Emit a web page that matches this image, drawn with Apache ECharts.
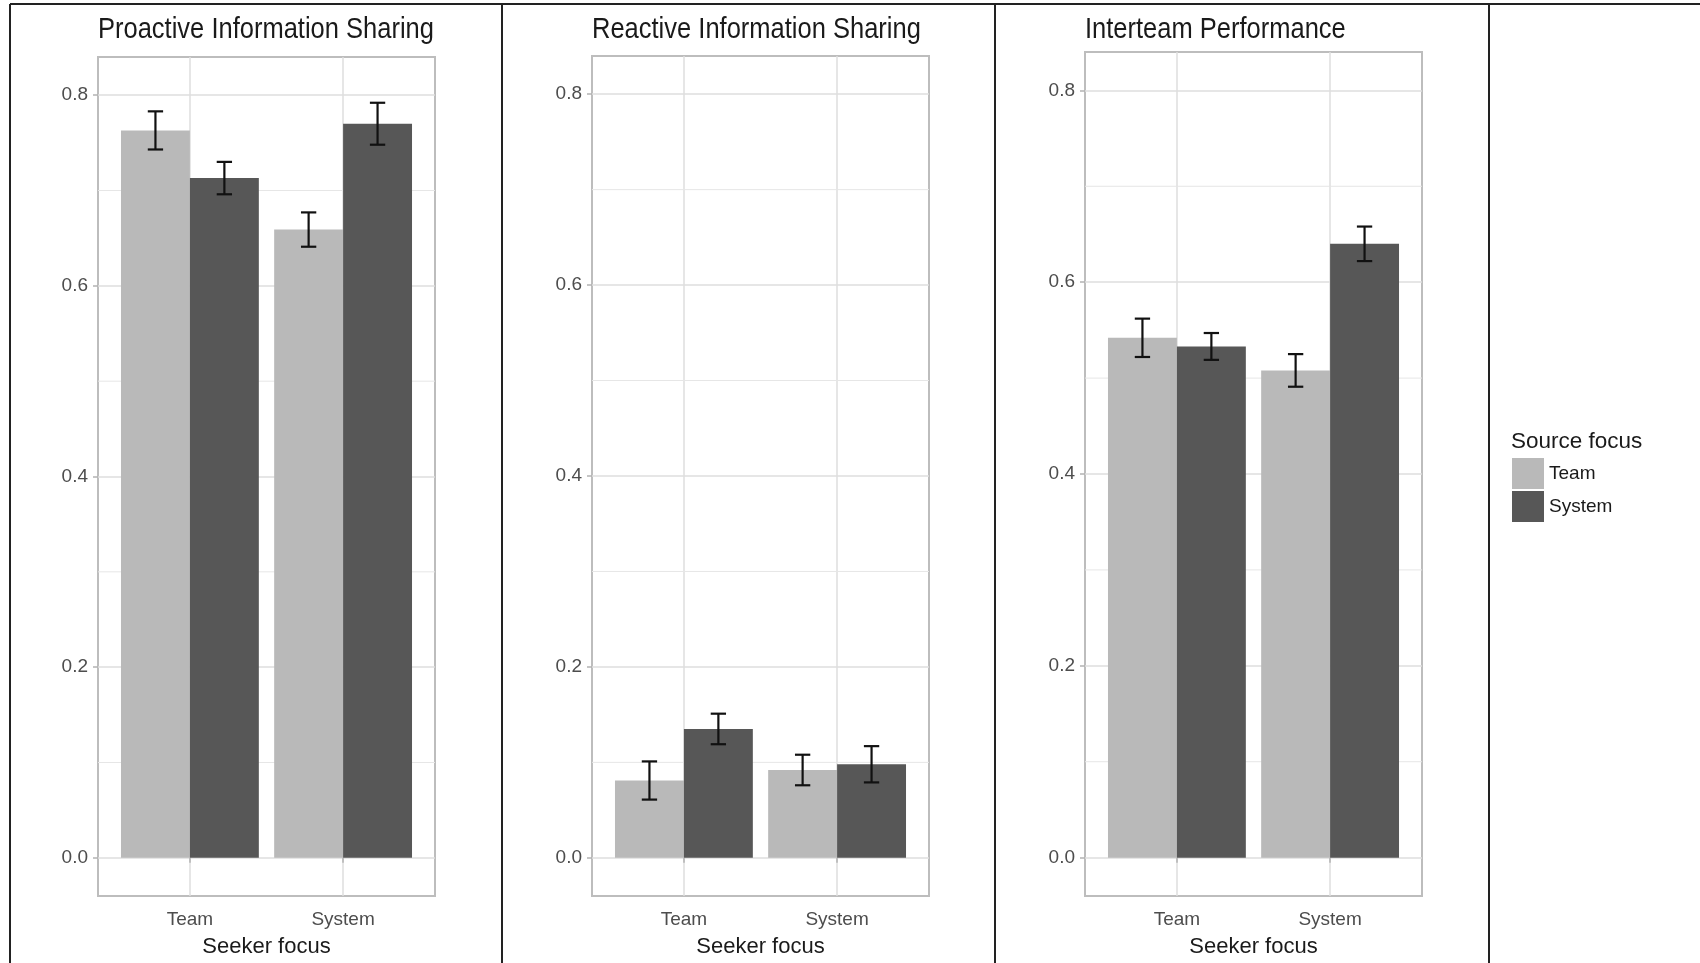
<!DOCTYPE html>
<html>
<head>
<meta charset="utf-8">
<script src="https://cdn.jsdelivr.net/npm/echarts@6/dist/echarts.min.js"></script>
<style>
html, body { margin: 0; padding: 0; background: #fff; }
#chart { width: 1700px; height: 963px; }
</style>
</head>
<body>
<div id="chart"></div>
<script>
const seekerFocus = ['Team', 'System'];
const sourceFocus = ['Team', 'System'];
const panelTitles = ['Proactive Information Sharing', 'Reactive Information Sharing', 'Interteam Performance'];
const yTicks = [0, 0.2, 0.4, 0.6, 0.8];
const yMinor = [0.1, 0.3, 0.5, 0.7];

// means per source focus, ordered by seeker focus (Team, System)
const proactiveTeam = [0.763, 0.659];
const proactiveSystem = [0.713, 0.770];
const proactiveTeamSe = [0.020, 0.018];
const proactiveSystemSe = [0.017, 0.022];

const reactiveTeam = [0.081, 0.092];
const reactiveSystem = [0.135, 0.098];
const reactiveTeamSe = [0.020, 0.016];
const reactiveSystemSe = [0.016, 0.019];

const interteamTeam = [0.542, 0.508];
const interteamSystem = [0.533, 0.640];
const interteamTeamSe = [0.020, 0.017];
const interteamSystemSe = [0.014, 0.018];

const panels = [
    { means: [proactiveTeam, proactiveSystem], se: [proactiveTeamSe, proactiveSystemSe] },
    { means: [reactiveTeam, reactiveSystem], se: [reactiveTeamSe, reactiveSystemSe] },
    { means: [interteamTeam, interteamSystem], se: [interteamTeamSe, interteamSystemSe] }
];

const fills = ['#b9b9b9', '#575757'];
const dodge = [-0.225, 0.225];
const barHalf = 0.225;
const capHalf = 0.05;

const grids = [
    { left: 98, top: 57, width: 337, height: 844 },
    { left: 592, top: 56, width: 337, height: 845 },
    { left: 1085, top: 52, width: 337, height: 849 }
];

const chart = echarts.init(document.getElementById('chart'));

const xAxes = [], yAxes = [], series = [], graphics = [];

grids.forEach((g, i) => {
    xAxes.push({
        type: 'value', gridIndex: i, min: 0.4, max: 2.6,
        axisLine: { show: false },
        axisTick: { show: true, customValues: [1, 2], length: 5, lineStyle: { color: '#b3b3b3', width: 1.5 } },
        axisLabel: { customValues: [1, 2], formatter: v => seekerFocus[Math.round(v) - 1], fontSize: 19, color: '#4d4d4d', margin: 14, fontFamily: 'Liberation Sans' },
        splitLine: { show: true, lineStyle: { color: '#dedede', width: 1.5 } },
        name: 'Seeker focus', nameLocation: 'middle', nameGap: 40,
        nameTextStyle: { fontSize: 22, color: '#1a1a1a', fontFamily: 'Liberation Sans' }
    });
    yAxes.push({
        type: 'value', gridIndex: i, min: -0.04, max: 0.84,
        axisLine: { show: false },
        axisTick: { show: true, customValues: yTicks, length: 5, lineStyle: { color: '#b3b3b3', width: 1.5 } },
        axisLabel: { customValues: yTicks, formatter: v => v.toFixed(1), fontSize: 19, color: '#4d4d4d', margin: 10, fontFamily: 'Liberation Sans' },
        splitLine: { show: true, lineStyle: { color: '#dedede', width: 1.5 } }
    });

    // minor grid lines, drawn under the bars
    series.push({
        type: 'custom', xAxisIndex: i, yAxisIndex: i, z: 1, silent: true,
        data: yMinor.map(v => [v]),
        renderItem: (params, api) => {
            const a = api.coord([0.4, api.value(0)]);
            const b = api.coord([2.6, api.value(0)]);
            return {
                type: 'line',
                shape: { x1: a[0], y1: a[1], x2: b[0], y2: b[1] },
                style: { stroke: '#e6e6e6', lineWidth: 1 }
            };
        }
    });

    const p = panels[i];
    sourceFocus.forEach((src, s) => {
        series.push({
            type: 'custom', name: src, xAxisIndex: i, yAxisIndex: i, z: 2,
            itemStyle: { color: fills[s] },
            data: seekerFocus.map((k, c) => [c + 1 + dodge[s], p.means[s][c]]),
            renderItem: (params, api) => {
                const x = api.value(0), y = api.value(1);
                const tl = api.coord([x - barHalf, y]);
                const br = api.coord([x + barHalf, 0]);
                return {
                    type: 'rect',
                    shape: { x: tl[0], y: tl[1], width: br[0] - tl[0], height: br[1] - tl[1] },
                    style: { fill: fills[s] }
                };
            }
        });
    });

    const errData = [];
    sourceFocus.forEach((src, s) => {
        seekerFocus.forEach((k, c) => {
            errData.push([c + 1 + dodge[s], p.means[s][c] - p.se[s][c], p.means[s][c] + p.se[s][c]]);
        });
    });
    series.push({
        type: 'custom', xAxisIndex: i, yAxisIndex: i, z: 3,
        data: errData,
        renderItem: (params, api) => {
            const x = api.value(0);
            const lo = api.coord([x, api.value(1)]);
            const hi = api.coord([x, api.value(2)]);
            const cap = api.size([capHalf, 0])[0];
            const st = { stroke: '#111', lineWidth: 2.2 };
            return {
                type: 'group',
                children: [
                    { type: 'line', shape: { x1: hi[0], y1: hi[1], x2: lo[0], y2: lo[1] }, style: st },
                    { type: 'line', shape: { x1: hi[0] - cap, y1: hi[1], x2: hi[0] + cap, y2: hi[1] }, style: st },
                    { type: 'line', shape: { x1: lo[0] - cap, y1: lo[1], x2: lo[0] + cap, y2: lo[1] }, style: st }
                ]
            };
        }
    });

    graphics.push({
        type: 'text', x: g.left, y: 30, scaleY: 1.15,
        style: { text: panelTitles[i], x: 0, y: 0, verticalAlign: 'middle', fontSize: 25.5, fill: '#1a1a1a', fontFamily: 'Liberation Sans' }
    });
});

// table frame around the figure
const frame = { stroke: '#222', lineWidth: 2 };
graphics.push({ type: 'line', shape: { x1: 10, y1: 4, x2: 1700, y2: 4 }, style: frame });
[10, 502, 995, 1489].forEach(x => {
    graphics.push({ type: 'line', shape: { x1: x, y1: 4, x2: x, y2: 963 }, style: frame });
});

graphics.push({
    type: 'text', left: 1511, top: 430,
    style: { text: 'Source focus', fontSize: 22.5, fill: '#1a1a1a', fontFamily: 'Liberation Sans' }
});

chart.setOption({
    backgroundColor: '#fff',
    animation: false,
    grid: grids.map(g => Object.assign({ show: true, borderColor: '#bdbdbd', borderWidth: 2, backgroundColor: 'transparent' }, g)),
    xAxis: xAxes,
    yAxis: yAxes,
    legend: {
        data: sourceFocus, orient: 'vertical', left: 1512, top: 458, padding: 0,
        icon: 'rect', itemWidth: 32, itemHeight: 31, itemGap: 2, selectedMode: false,
        textStyle: { fontSize: 19, color: '#1a1a1a', fontFamily: 'Liberation Sans', padding: [9, 0, 0, 0] }
    },
    graphic: graphics,
    series: series
});
</script>
</body>
</html>
